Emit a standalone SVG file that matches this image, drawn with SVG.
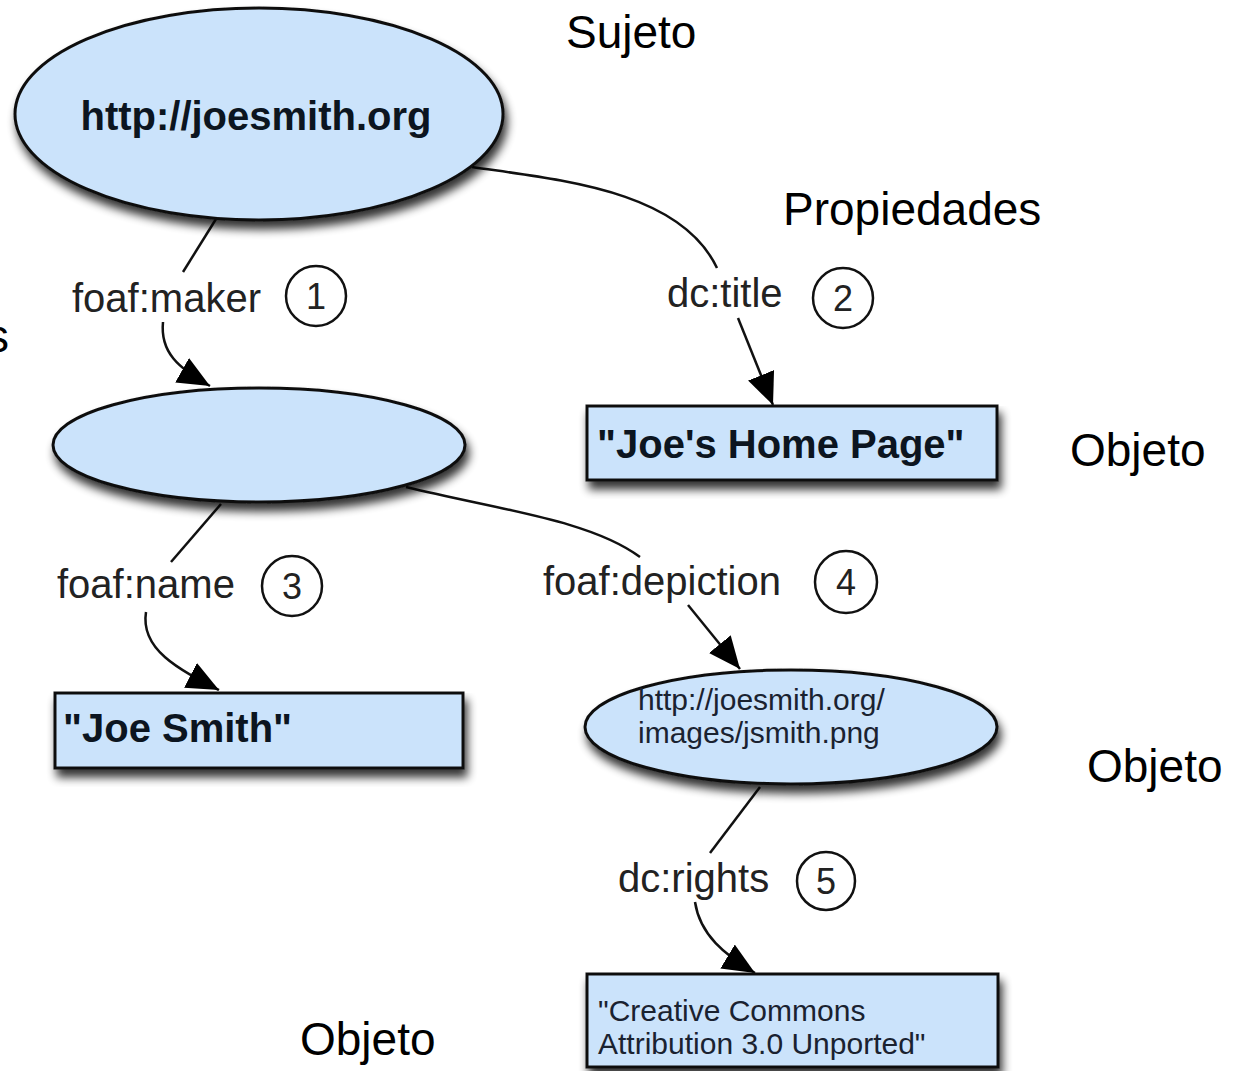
<svg xmlns="http://www.w3.org/2000/svg" width="1238" height="1071" viewBox="0 0 1238 1071">
<defs>
<filter id="sh" x="-10%" y="-10%" width="125%" height="135%">
<feGaussianBlur in="SourceAlpha" stdDeviation="5"/>
<feOffset dx="3" dy="8" result="b"/>
<feComponentTransfer><feFuncA type="linear" slope="0.8"/></feComponentTransfer>
<feMerge><feMergeNode/><feMergeNode in="SourceGraphic"/></feMerge>
</filter>
<marker id="ah" markerUnits="userSpaceOnUse" markerWidth="34" markerHeight="28" refX="32" refY="14" orient="auto">
<path d="M0,0 L32,14 L0,28 Z" fill="#000"/>
</marker>
</defs>
<style>
.node{fill:#cbe3fb;stroke:#111;stroke-width:3}
.bold{font-family:"Liberation Sans",Arial,sans-serif;font-weight:bold;font-size:40px;fill:#0c1520}
.small{font-family:"Liberation Sans",Arial,sans-serif;font-size:30px;fill:#1a2230}
.lbl{font-family:"Liberation Sans",Arial,sans-serif;font-size:40px;fill:#222}
.num{font-family:"Liberation Sans",Arial,sans-serif;font-size:36px;fill:#222;text-anchor:middle}
.ann{font-family:"Liberation Sans",Arial,sans-serif;font-size:46px;fill:#000}
.edge{fill:none;stroke:#111;stroke-width:2.5}
.circ{fill:none;stroke:#111;stroke-width:2.5}
</style>
<rect width="1238" height="1071" fill="#fff"/>

<g id="connectors">
<path class="edge" d="M216,219 L183,272"/>
<path class="edge" d="M163,322 C160,352 178,368 210,386" marker-end="url(#ah)"/>
<path class="edge" d="M472,167 C560,180 680,190 717,268"/>
<path class="edge" d="M738,318 L773,405" marker-end="url(#ah)"/>
<path class="edge" d="M221,504 L171,562"/>
<path class="edge" d="M146,612 C140,650 180,670 219,690" marker-end="url(#ah)"/>
<path class="edge" d="M406,487 C500,510 590,520 640,557"/>
<path class="edge" d="M688,605 L740,669" marker-end="url(#ah)"/>
<path class="edge" d="M760,787 L710,853"/>
<path class="edge" d="M695,902 C700,935 725,955 755,973" marker-end="url(#ah)"/>
</g>

<g id="labels">
<text class="lbl" x="72" y="312">foaf:maker</text>
<circle class="circ" cx="316" cy="296" r="30"/>
<text class="num" x="316" y="309">1</text>
<text class="lbl" x="667" y="307">dc:title</text>
<circle class="circ" cx="843" cy="298" r="30"/>
<text class="num" x="843" y="311">2</text>
<text class="lbl" x="57" y="598">foaf:name</text>
<circle class="circ" cx="292" cy="586" r="30"/>
<text class="num" x="292" y="599">3</text>
<text class="lbl" x="543" y="595">foaf:depiction</text>
<circle class="circ" cx="846" cy="582" r="31"/>
<text class="num" x="846" y="595">4</text>
<text class="lbl" x="618" y="892">dc:rights</text>
<circle class="circ" cx="826" cy="881" r="29"/>
<text class="num" x="826" y="894">5</text>
</g>

<g id="n-joesmith">
<ellipse class="node" cx="259" cy="114" rx="244" ry="106" filter="url(#sh)"/>
<text class="bold" x="256" y="130" text-anchor="middle">http://joesmith.org</text>
</g>

<g id="n-blank">
<ellipse class="node" cx="259" cy="445" rx="206" ry="57" filter="url(#sh)"/>
</g>

<g id="n-homepage">
<rect class="node" x="587" y="406" width="410" height="74" filter="url(#sh)"/>
<text class="bold" x="597" y="458">"Joe's Home Page"</text>
</g>

<g id="n-joename">
<rect class="node" x="55" y="693" width="408" height="75" filter="url(#sh)"/>
<text class="bold" x="63" y="742">"Joe Smith"</text>
</g>

<g id="n-image">
<ellipse class="node" cx="791" cy="727" rx="206" ry="57" filter="url(#sh)"/>
<text class="small" x="638" y="710">http://joesmith.org/</text>
<text class="small" x="638" y="743">images/jsmith.png</text>
</g>

<g id="n-rights">
<rect class="node" x="587" y="974" width="411" height="93" filter="url(#sh)"/>
<text class="small" x="598" y="1021">"Creative Commons</text>
<text class="small" x="598" y="1054">Attribution 3.0 Unported"</text>
</g>

<g id="annotations">
<text class="ann" x="566" y="48">Sujeto</text>
<text class="ann" x="783" y="225">Propiedades</text>
<text class="ann" x="9" y="352" text-anchor="end">s</text>
<text class="ann" x="1070" y="466">Objeto</text>
<text class="ann" x="1087" y="782">Objeto</text>
<text class="ann" x="300" y="1055">Objeto</text>
</g>
</svg>
